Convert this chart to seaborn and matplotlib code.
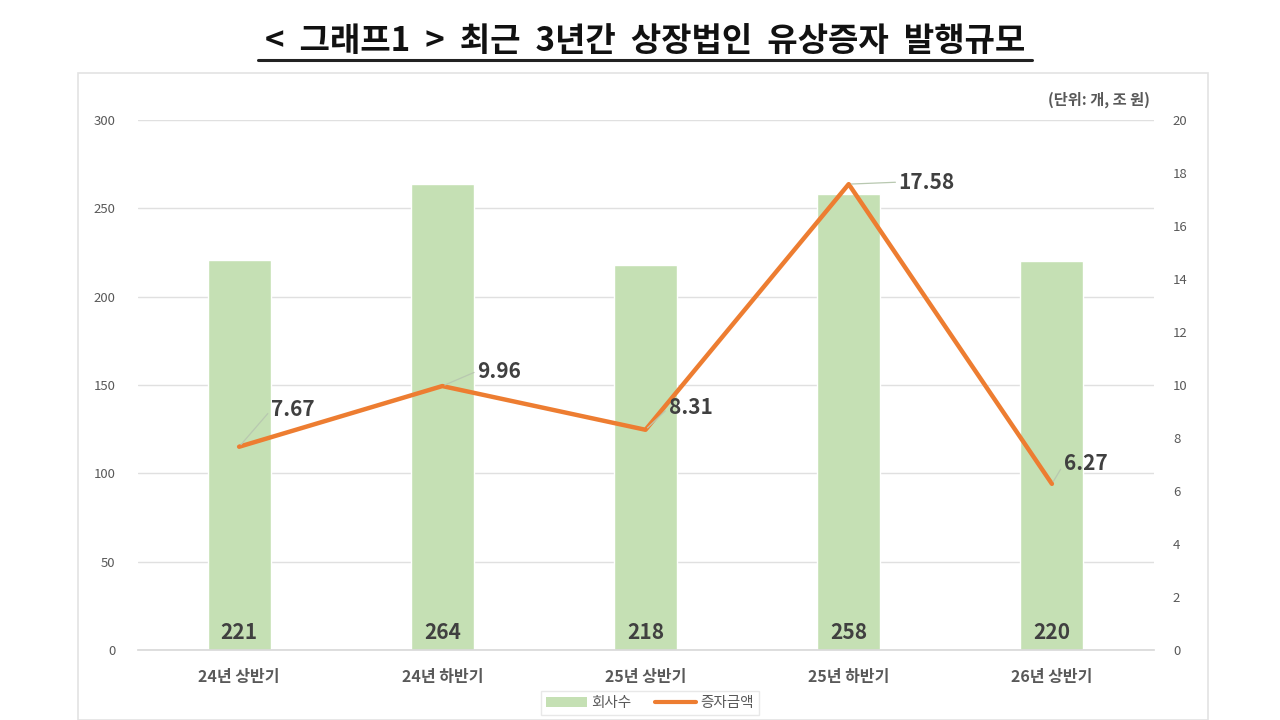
import matplotlib
matplotlib.use("Agg")
import matplotlib.pyplot as plt
import seaborn as sns
import numpy as np
import pandas as pd
from matplotlib.patches import Rectangle
from matplotlib.lines import Line2D

categories = ["24년 상반기", "24년 하반기", "25년 상반기", "25년 하반기", "26년 상반기"]
companies = [221, 264, 218, 258, 220]
amounts = [7.67, 9.96, 8.31, 17.58, 6.27]
left_ticks = [0, 50, 100, 150, 200, 250, 300]
right_ticks = [0, 2, 4, 6, 8, 10, 12, 14, 16, 18, 20]
title = "<  그래프1  >  최근  3년간  상장법인  유상증자  발행규모"
unit_text = "(단위: 개, 조 원)"
series_names = ["회사수", "증자금액"]

sns.set_theme(style="white")
plt.rcParams['font.family'] = ['Noto Sans CJK KR', 'DejaVu Sans']

W, H = 1280, 720
fig = plt.figure(figsize=(12.8, 7.2), dpi=100)
fig.patch.set_facecolor("white")

# chart-area border
fig.add_artist(Rectangle((78 / W, 0), (1208 - 78) / W, 1 - 73 / H,
                         transform=fig.transFigure, fill=False,
                         edgecolor="#E3E3E3", linewidth=1.2))

ax = fig.add_axes([137.5 / W, 1 - 650 / H, (1153.5 - 137.5) / W, (650 - 120) / H])
df = pd.DataFrame({"cat": categories, "n": companies, "amt": amounts})

bar_color = "#C5E0B4"
line_color = "#ED7D31"
sns.barplot(data=df, x="cat", y="n", color=bar_color, width=0.31, ax=ax,
            saturation=1)
ax.set_ylim(0, 300)
ax.set_xlim(-0.5, len(categories) - 0.5)
ax.set_yticks(left_ticks)
ax.yaxis.grid(True, color="#E0E0E0", linewidth=1.0)
ax.set_axisbelow(True)
for s in ["top", "left", "right"]:
    ax.spines[s].set_visible(False)
ax.spines["bottom"].set_color("#D9D9D9")
ax.set_xlabel("")
ax.set_ylabel("")
ax.tick_params(axis="y", labelsize=9.5, colors="#595959", length=0, pad=16)
ax.tick_params(axis="x", labelsize=11.5, colors="#595959", length=0, pad=14)
for lbl in ax.get_xticklabels():
    lbl.set_fontweight("bold")

for i, v in enumerate(companies):
    ax.text(i, 10, f"{v}", ha="center", va="center", fontsize=15,
            fontweight="bold", color="#404040")

ax2 = ax.twinx()
sns.lineplot(x=np.arange(len(categories)), y=amounts, ax=ax2, color=line_color,
             linewidth=3.2, sort=False, legend=False)
ax2.set_ylim(0, 20)
ax2.set_yticks(right_ticks)
ax2.set_xlim(-0.5, len(categories) - 0.5)
for s in ["top", "left", "right", "bottom"]:
    ax2.spines[s].set_visible(False)
ax2.tick_params(axis="y", labelsize=9.5, colors="#595959", length=0, pad=14)
ax2.set_ylabel("")

offsets = [(32, 37), (35, 15), (23, 22), (50, 2), (12, 20)]
for i, (v, off) in enumerate(zip(amounts, offsets)):
    ax2.annotate(f"{v:.2f}", xy=(i, v), xytext=off, textcoords="offset pixels",
                 ha="left", va="center", fontsize=15, fontweight="bold",
                 color="#404040",
                 arrowprops=dict(arrowstyle="-", color="#B8C8B0", linewidth=0.9,
                                 shrinkA=0, shrinkB=2, relpos=(0, 0.5)))

# legend
h1 = Rectangle((0, 0), 1, 1, facecolor=bar_color, edgecolor="none")
h2 = Line2D([0], [0], color=line_color, linewidth=3)
leg = fig.legend([h1, h2], series_names, loc="center", bbox_to_anchor=(650 / W, 1 - 703 / H),
                 ncol=2, fontsize=10.5, frameon=True, edgecolor="#E3E3E3",
                 fancybox=False, handlelength=2.8, handletextpad=0.3, columnspacing=1.6,
                 borderpad=0.35)
for t in leg.get_texts():
    t.set_color("#595959")

fig.text(1099 / W, 1 - 100 / H, unit_text, ha="center", va="center", fontsize=11,
         color="#595959", fontweight="bold")

# title with underline
fig.text(645 / W, 1 - 41 / H, title, ha="center", va="center", fontsize=23.8,
         fontweight="bold", color="#111111")
fig.add_artist(Line2D([258 / W, 1032 / W], [1 - 60 / H, 1 - 60 / H],
                      transform=fig.transFigure, color="#222222", linewidth=2.2))

fig.savefig("out.png", dpi=100, facecolor="white")
